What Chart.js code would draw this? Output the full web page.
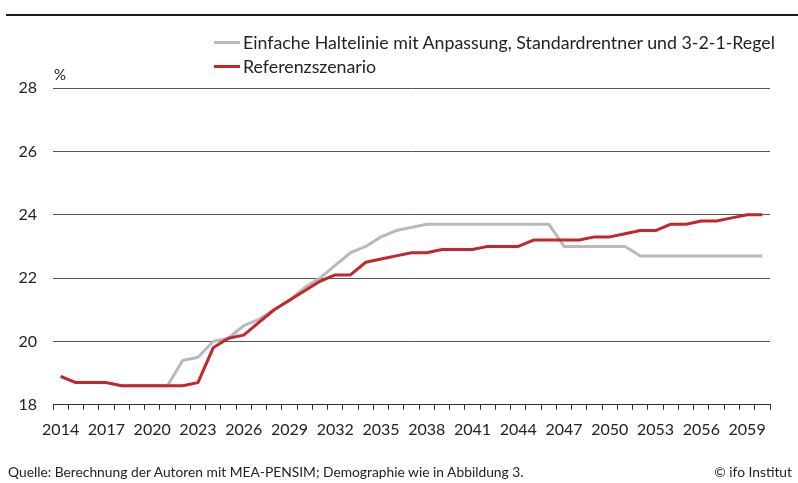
<!DOCTYPE html>
<html>
<head>
<meta charset="utf-8">
<script src="https://cdn.jsdelivr.net/npm/chart.js@4.4.1/dist/chart.umd.min.js"></script>
<style>
  body { margin: 0; width: 798px; height: 483px; background: #fff; position: relative; overflow: hidden; font-family: Lato, sans-serif; color: #222; }
  #rule { position: absolute; left: 6px; top: 14px; width: 792px; height: 2px; background: #1a1a1a; }
  #box { position: absolute; left: 0; top: 0; width: 798px; height: 483px; }
  .leg { position: absolute; left: 214px; font-size: 17.8px; line-height: 20px; display: flex; align-items: center; white-space: nowrap; }
  .leg i { display: inline-block; width: 26px; height: 3px; margin-right: 3px; }
  #unit { position: absolute; left: 54px; top: 65px; font-size: 15px; }
  .foot { position: absolute; top: 463px; font-size: 13.8px; }
</style>
</head>
<body>
<div id="rule"></div>
<div id="box"><canvas id="c"></canvas></div>
<div id="legend"></div>
<div id="unit">%</div>
<div class="foot" style="left:8px">Quelle: Berechnung der Autoren mit MEA-PENSIM; Demographie wie in Abbildung 3.</div>
<div class="foot" style="right:6px">© ifo Institut</div>
<script>
// years on the x axis
const years = ['2014','2015','2016','2017','2018','2019','2020','2021','2022','2023',
  '2024','2025','2026','2027','2028','2029','2030','2031','2032','2033',
  '2034','2035','2036','2037','2038','2039','2040','2041','2042','2043',
  '2044','2045','2046','2047','2048','2049','2050','2051','2052','2053',
  '2054','2055','2056','2057','2058','2059','2060'];
// only every third year gets a label
const shownYears = ['2014','2017','2020','2023','2026','2029','2032','2035','2038',
  '2041','2044','2047','2050','2053','2056','2059'];
const yTicks = [18, 20, 22, 24, 26, 28];

const haltelinie = [18.9,18.7,18.7,18.7,18.6,18.6,18.6,18.6,19.4,19.5,
  20.0,20.1,20.5,20.7,21.0,21.3,21.7,22.0,22.4,22.8,
  23.0,23.3,23.5,23.6,23.7,23.7,23.7,23.7,23.7,23.7,
  23.7,23.7,23.7,23.0,23.0,23.0,23.0,23.0,22.7,22.7,
  22.7,22.7,22.7,22.7,22.7,22.7,22.7];
const referenz = [18.9,18.7,18.7,18.7,18.6,18.6,18.6,18.6,18.6,18.7,
  19.8,20.1,20.2,20.6,21.0,21.3,21.6,21.9,22.1,22.1,
  22.5,22.6,22.7,22.8,22.8,22.9,22.9,22.9,23.0,23.0,
  23.0,23.2,23.2,23.2,23.2,23.3,23.3,23.4,23.5,23.5,
  23.7,23.7,23.8,23.8,23.9,24.0,24.0];

// order: red line is drawn on top of the grey one
const series = [
  { label: 'Einfache Haltelinie mit Anpassung, Standardrentner und 3-2-1-Regel', data: haltelinie, color: '#b9b9b9', order: 2 },
  { label: 'Referenzszenario', data: referenz, color: '#c1272d', order: 1 }
];

// html legend, one row per series
const legend = document.getElementById('legend');
series.forEach((s, i) => {
  const d = document.createElement('div');
  d.className = 'leg';
  d.style.top = (32 + i * 24) + 'px';
  d.innerHTML = '<i style="background:' + s.color + '"></i>' + s.label;
  legend.appendChild(d);
});

Chart.defaults.font.family = 'Lato, sans-serif';
Chart.defaults.font.size = 16;
Chart.defaults.color = '#222';

new Chart(document.getElementById('c'), {
  type: 'line',
  data: {
    labels: years,
    datasets: series.map(s => ({
      label: s.label, data: s.data, borderColor: s.color, backgroundColor: s.color, order: s.order,
      borderWidth: 3, pointRadius: 0, tension: 0, borderJoinStyle: 'round'
    }))
  },
  options: {
    responsive: true, maintainAspectRatio: false, animation: false,
    layout: { padding: { top: 88, right: 28, bottom: 34, left: 0 } },
    plugins: { legend: { display: false }, tooltip: { enabled: false } },
    scales: {
      x: {
        offset: true,
        grid: { offset: true, drawOnChartArea: false, drawTicks: true, tickLength: 5, color: '#333', lineWidth: 1 },
        border: { display: true, color: '#333', width: 1 },
        ticks: {
          autoSkip: false, maxRotation: 0, padding: 10,
          callback: function (v, i) { const y = years[i]; return shownYears.includes(y) ? y : ''; }
        }
      },
      y: {
        min: 18, max: 28,
        afterBuildTicks: s => { s.ticks = yTicks.map(v => ({ value: v })); },
        afterFit: s => { s.width = 53; },
        grid: { color: '#555', lineWidth: 1, drawTicks: false },
        border: { display: false },
        ticks: { padding: 16 }
      }
    }
  }
});
</script>
</body>
</html>
